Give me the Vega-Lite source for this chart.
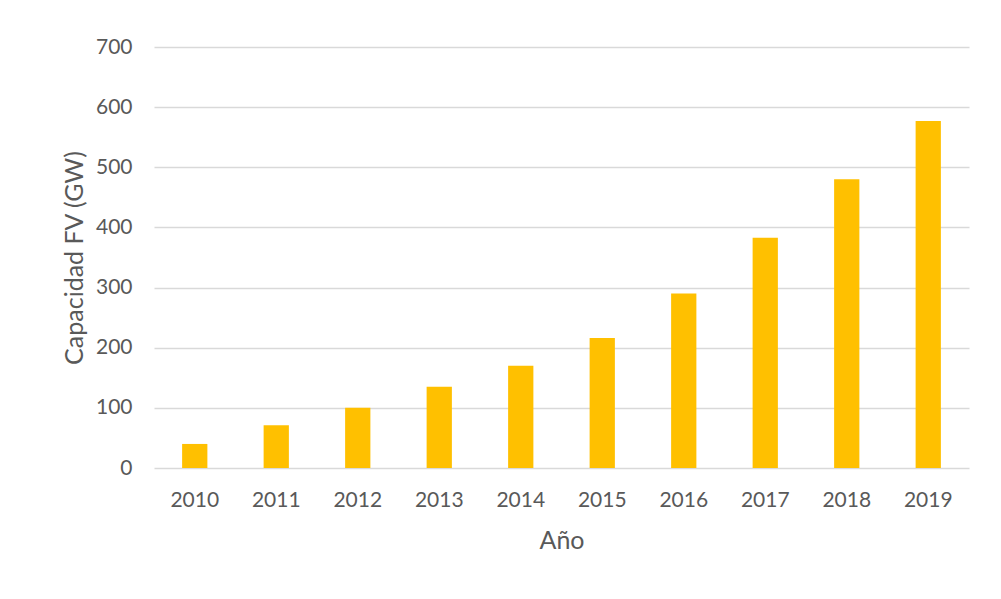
{
  "$schema": "https://vega.github.io/schema/vega-lite/v6.json",
  "width": 815,
  "height": 421,
  "padding": {"left": 62, "top": 36, "right": 31, "bottom": 20},
  "background": "white",
  "data": {
    "values": [
      {"year": "2010", "capacity": 40},
      {"year": "2011", "capacity": 71},
      {"year": "2012", "capacity": 100},
      {"year": "2013", "capacity": 135},
      {"year": "2014", "capacity": 170},
      {"year": "2015", "capacity": 216},
      {"year": "2016", "capacity": 290},
      {"year": "2017", "capacity": 383},
      {"year": "2018", "capacity": 480},
      {"year": "2019", "capacity": 577}
    ]
  },
  "mark": {"type": "bar", "color": "#FFC000"},
  "encoding": {
    "x": {
      "field": "year",
      "type": "ordinal",
      "title": "Año",
      "scale": {"paddingInner": 0.69, "paddingOuter": 0.345},
      "axis": {
        "labelAngle": 0,
        "domain": false,
        "ticks": false,
        "labelFont": "Lato",
        "labelFontSize": 21,
        "labelColor": "#595959",
        "labelPadding": 21,
        "titleFont": "Lato",
        "titleFontSize": 25,
        "titleFontWeight": "normal",
        "titleColor": "#595959",
        "titlePadding": 18
      }
    },
    "y": {
      "field": "capacity",
      "type": "quantitative",
      "title": "Capacidad FV (GW)",
      "scale": {"domain": [0, 700]},
      "axis": {
        "values": [0, 100, 200, 300, 400, 500, 600, 700],
        "domain": false,
        "ticks": false,
        "gridColor": "#d9d9d9",
        "gridWidth": 1.5,
        "labelFont": "Lato",
        "labelFontSize": 21,
        "labelColor": "#595959",
        "labelPadding": 22,
        "titleFont": "Lato",
        "titleFontSize": 25,
        "titleFontWeight": "normal",
        "titleColor": "#595959",
        "titlePadding": 8
      }
    }
  },
  "config": {"view": {"stroke": null}}
}
